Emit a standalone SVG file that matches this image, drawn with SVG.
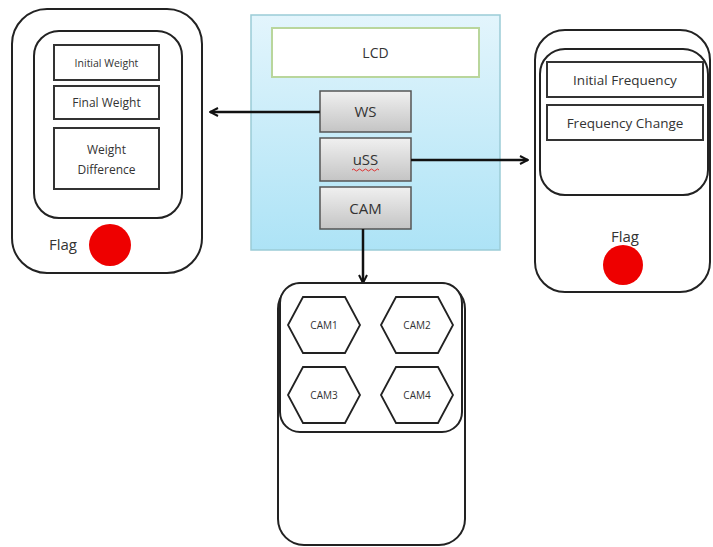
<svg xmlns="http://www.w3.org/2000/svg" width="713" height="547" viewBox="0 0 713 547">
<defs>
<linearGradient id="panel" x1="0" y1="0" x2="0" y2="1">
<stop offset="0" stop-color="#e3f5fc"/>
<stop offset="1" stop-color="#ade3f6"/>
</linearGradient>
<linearGradient id="btn" x1="0" y1="0" x2="0" y2="1">
<stop offset="0" stop-color="#f0f0f0"/>
<stop offset="1" stop-color="#c4c4c4"/>
</linearGradient>
<marker id="ah" viewBox="0 0 10 10" refX="9" refY="5" markerWidth="10" markerHeight="10" markerUnits="userSpaceOnUse" orient="auto">
<path d="M1,1 L9,5 L1,9" fill="none" stroke="#111" stroke-width="2"/>
</marker>
<style>
.dev{fill:#fff;stroke:#222;stroke-width:2}
.box{fill:#fff;stroke:#333;stroke-width:2}
.btn{fill:url(#btn);stroke:#555;stroke-width:1.5}
.hex{fill:#fff;stroke:#222;stroke-width:1.8}
.t{font-family:"Open Sans","Liberation Sans",sans-serif;fill:#333;text-anchor:middle}
.c{stroke:#111;stroke-width:2.5;fill:none}
</style>
</defs>
<rect width="713" height="547" fill="#fff"/>

<g id="center-panel">
<rect x="251" y="15" width="249" height="235" fill="url(#panel)" stroke="#9bcbd6" stroke-width="1.5"/>
</g>
<g id="lcd">
<rect x="272" y="28" width="207" height="49" fill="#fff" stroke="#b9d69c" stroke-width="2"/>
<text class="t" x="375.5" y="58" font-size="14">LCD</text>
</g>
<g id="ws">
<rect class="btn" x="320" y="91" width="91" height="41"/>
<text class="t" x="365.5" y="117" font-size="15">WS</text>
</g>
<g id="uss">
<rect class="btn" x="320" y="138" width="91" height="43"/>
<text class="t" x="365.5" y="165" font-size="15">uSS</text>
<path d="M352,170 q1.5,-2 3,0 t3,0 t3,0 t3,0 t3,0 t3,0 t3,0 t3,0 t3,0" fill="none" stroke="#e03030" stroke-width="1"/>
</g>
<g id="cam">
<rect class="btn" x="320" y="187" width="91" height="42"/>
<text class="t" x="365.5" y="214" font-size="15">CAM</text>
</g>

<g id="connectors">
<line class="c" x1="320" y1="112" x2="210" y2="112" marker-end="url(#ah)"/>
<line class="c" x1="411" y1="160" x2="528" y2="160" marker-end="url(#ah)"/>
<line class="c" x1="363" y1="229" x2="363" y2="283" marker-end="url(#ah)"/>
</g>

<g id="weight-device">
<rect class="dev" x="12" y="9" width="190" height="264" rx="35"/>
<rect class="dev" x="34" y="31" width="148" height="187" rx="25"/>
<g id="initial-weight">
<rect class="box" x="54" y="45" width="105" height="35"/>
<text class="t" x="106.5" y="67" font-size="10.5">Initial Weight</text>
</g>
<g id="final-weight">
<rect class="box" x="54" y="86" width="105" height="33"/>
<text class="t" x="106.5" y="107" font-size="12">Final Weight</text>
</g>
<g id="weight-difference">
<rect class="box" x="54" y="128" width="105" height="61"/>
<text class="t" x="106.5" y="154" font-size="12">Weight</text>
<text class="t" x="106.5" y="174" font-size="12">Difference</text>
</g>
<text class="t" x="63" y="250" font-size="15">Flag</text>
<circle cx="110" cy="245" r="21" fill="#ee0000"/>
</g>

<g id="frequency-device">
<rect class="dev" x="535" y="30" width="175" height="262" rx="30"/>
<rect class="dev" x="540" y="49" width="168" height="146" rx="25"/>
<g id="initial-frequency">
<rect class="box" x="547" y="62" width="156" height="35"/>
<text class="t" x="625" y="85" font-size="13.5">Initial Frequency</text>
</g>
<g id="frequency-change">
<rect class="box" x="547" y="105" width="156" height="35"/>
<text class="t" x="625" y="128" font-size="13.5">Frequency Change</text>
</g>
<text class="t" x="625" y="242" font-size="15">Flag</text>
<circle cx="623" cy="265" r="20" fill="#ee0000"/>
</g>

<g id="camera-device">
<rect class="dev" x="278" y="283" width="187" height="262" rx="26"/>
<rect class="dev" x="280" y="283" width="182" height="149" rx="20"/>
<g id="cam1">
<polygon class="hex" points="288,325 303,297 345,297 360,325 345,353 303,353"/>
<text class="t" x="324" y="329" font-size="10">CAM1</text>
</g>
<g id="cam2">
<polygon class="hex" points="381,325 396,297 438,297 453,325 438,353 396,353"/>
<text class="t" x="417" y="329" font-size="10">CAM2</text>
</g>
<g id="cam3">
<polygon class="hex" points="288,395 303,367 345,367 360,395 345,423 303,423"/>
<text class="t" x="324" y="399" font-size="10">CAM3</text>
</g>
<g id="cam4">
<polygon class="hex" points="381,395 396,367 438,367 453,395 438,423 396,423"/>
<text class="t" x="417" y="399" font-size="10">CAM4</text>
</g>
</g>
</svg>
